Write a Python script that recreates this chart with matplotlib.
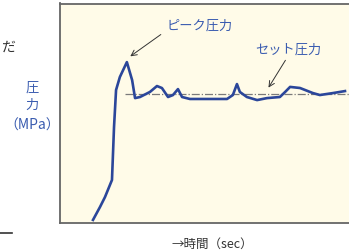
import matplotlib.pyplot as plt

plt.rcParams['font.family'] = ['Noto Sans CJK JP', 'DejaVu Sans']

# pressure trace (time, arbitrary units)
time = [11.3, 13.7, 15.4, 17.8, 18.2, 18.5, 19.2, 20.5, 22.9, 24.7, 25.7, 27.4,
        30.8, 33.2, 34.9, 37.0, 38.7, 40.4, 41.8, 44.5, 57.2, 59.2, 60.6, 61.6,
        64.0, 67.5, 70.9, 75.3, 77.1, 78.8, 82.2, 86.6, 89.0, 93.5, 97.6]
pressure = [0.14, 0.73, 1.18, 1.96, 3.33, 4.37, 6.06, 6.65, 7.33, 6.51, 5.69, 5.74,
            5.97, 6.24, 6.15, 5.74, 5.83, 6.10, 5.74, 5.65, 5.65, 5.83, 6.33, 5.97,
            5.74, 5.60, 5.69, 5.74, 5.97, 6.20, 6.15, 5.92, 5.83, 5.92, 6.01]
set_pressure = 5.88
set_start = 22.3

blue = '#2b469a'
label_blue = '#3a5cb0'

fig = plt.figure(figsize=(3.49, 2.5), dpi=100)
ax = fig.add_axes([60 / 349, 27 / 250, 292 / 349, 219.5 / 250])
ax.set_facecolor('#fffbe8')
ax.set_xlim(0, 100)
ax.set_ylim(0, 10)
ax.set_xticks([])
ax.set_yticks([])
for s in ax.spines.values():
    s.set_color('#666666')
    s.set_linewidth(1.3)

ax.plot([set_start, 100], [set_pressure, set_pressure], color='#7a7a7a',
        linestyle='-.', linewidth=0.9)
ax.plot(time, pressure, color=blue, linewidth=1.9, solid_joinstyle='round')

# annotations
ax.text(47.9, 8.97, 'ピーク圧力', color=label_blue, fontsize=9.5,
        ha='center', va='center')
ax.annotate('', xy=(23.3, 7.52), xytext=(35.3, 8.66),
            arrowprops=dict(arrowstyle='->', color='#333333', lw=0.7))
ax.text(78.1, 7.88, 'セット圧力', color=label_blue, fontsize=9.5,
        ha='center', va='center')
ax.annotate('', xy=(70.9, 6.06), xytext=(77.7, 7.52),
            arrowprops=dict(arrowstyle='->', color='#333333', lw=0.7))

# axis labels
fig.text(32 / 349, 1 - 88 / 250, '圧', color=label_blue, fontsize=9.5,
         ha='center', va='center')
fig.text(32 / 349, 1 - 105 / 250, '力', color=label_blue, fontsize=9.5,
         ha='center', va='center')
fig.text(32 / 349, 1 - 126 / 250, '（MPa）', color=label_blue, fontsize=10,
         ha='center', va='center')
fig.text(212 / 349, 1 - 244 / 250, '→時間（sec）', color='#333333', fontsize=9,
         ha='center', va='center')

# pieces at the left edge
fig.text(1 / 349, 1 - 48 / 250, 'だ', color='#333333', fontsize=10,
         ha='left', va='center')
fig.add_artist(plt.Line2D([0, 12 / 349], [1 - 233 / 250, 1 - 233 / 250],
                          color='#333333', linewidth=1.2))

fig.savefig('out.png', dpi=100)
